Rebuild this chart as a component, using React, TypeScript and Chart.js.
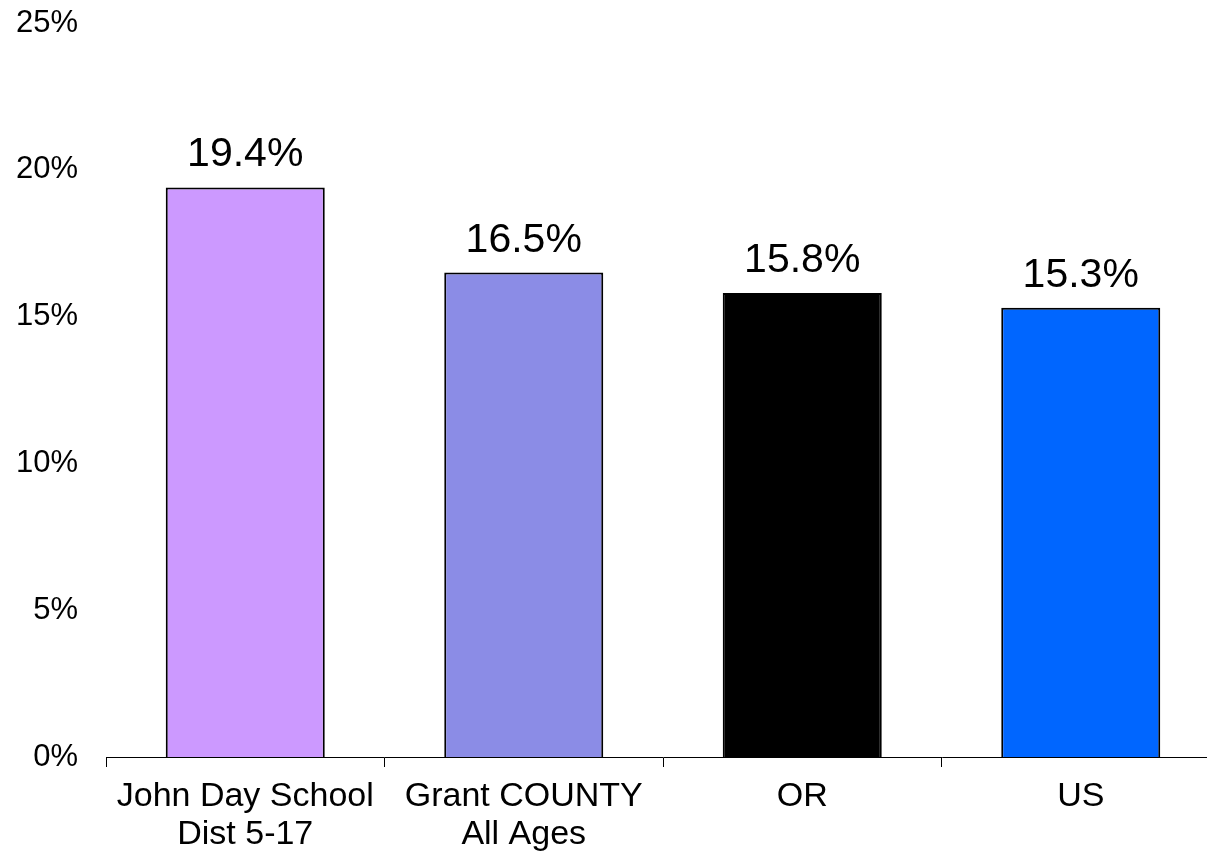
import React, { useEffect, useRef } from "react";
import { Chart, registerables } from "chart.js";

Chart.register(...registerables);

const categories: string[][] = [
  ["John Day School", "Dist 5-17"],
  ["Grant COUNTY", "All Ages"],
  ["OR"],
  ["US"],
];
const values: number[] = [19.4, 16.5, 15.8, 15.3];
const barColors: string[] = ["#CC99FF", "#8B8CE6", "#000000", "#0066FF"];
const yTicks: number[] = [0, 5, 10, 15, 20, 25];

const FONT = "'Liberation Sans', Arial, sans-serif";

const valueLabels = {
  id: "valueLabels",
  afterDatasetsDraw(chart: any) {
    const ctx = chart.ctx;
    const meta = chart.getDatasetMeta(0);
    ctx.save();
    ctx.font = `41px ${FONT}`;
    ctx.fillStyle = "#000";
    ctx.textAlign = "center";
    ctx.textBaseline = "alphabetic";
    meta.data.forEach((bar: any, i: number) => {
      ctx.fillText(values[i].toFixed(1) + "%", bar.x, bar.y - 21);
    });
    ctx.restore();
  },
};

export default function App() {
  const ref = useRef<HTMLCanvasElement>(null);
  useEffect(() => {
    if (!ref.current) return;
    const chart = new Chart(ref.current, {
      type: "bar",
      data: {
        labels: categories,
        datasets: [
          {
            data: values,
            backgroundColor: barColors,
            borderColor: "#000",
            borderWidth: 2,
            barPercentage: 0.571,
            categoryPercentage: 1,
          },
        ],
      },
      options: {
        responsive: false,
        animation: false,
        layout: { padding: { top: 23, right: 20, left: 0, bottom: 0 } },
        plugins: { legend: { display: false }, tooltip: { enabled: false } },
        scales: {
          x: {
            offset: true,
            grid: {
              offset: true,
              drawOnChartArea: false,
              drawTicks: true,
              tickLength: 10,
              color: "#000",
              lineWidth: 1,
            },
            border: { display: true, color: "#000", width: 1 },
            ticks: {
              color: "#000",
              font: { family: FONT, size: 34, lineHeight: 1.12 },
              padding: 11,
              maxRotation: 0,
              autoSkip: false,
            },
            afterFit: (s: any) => {
              s.height = 99;
            },
          },
          y: {
            min: 0,
            max: 25,
            afterBuildTicks: (s: any) => {
              s.ticks = yTicks.map((v) => ({ value: v }));
            },
            grid: {
              display: false,
              drawOnChartArea: false,
              drawTicks: true,
              tickLength: 28,
              color: "rgba(0,0,0,0)",
            },
            border: { display: false },
            ticks: {
              color: "#000",
              font: { family: FONT, size: 31 },
              padding: 0,
              callback: (v: any) => v + "%",
            },
            afterFit: (s: any) => {
              s.width = 106;
            },
          },
        },
      },
      plugins: [valueLabels],
    });
    return () => chart.destroy();
  }, []);
  return (
    <div
      style={{
        position: "fixed",
        left: 0,
        top: 0,
        width: 1207,
        height: 856,
        overflow: "hidden",
        background: "#fff",
      }}
    >
      <canvas
        ref={ref}
        width={1240}
        height={856}
        style={{ display: "block", width: 1240, height: 856 }}
      />
    </div>
  );
}
